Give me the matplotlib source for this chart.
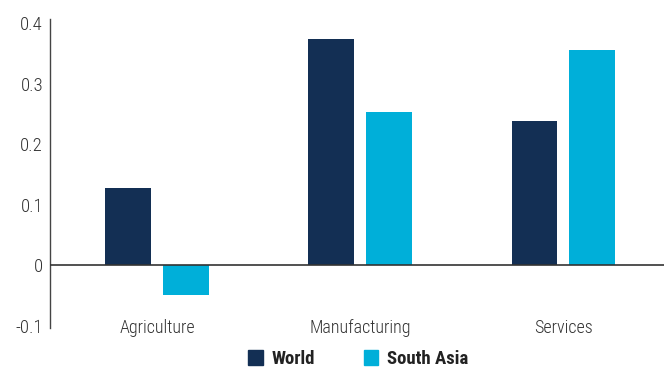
import numpy as np
import matplotlib.pyplot as plt
from matplotlib.patches import Patch

# Sector values
sectors = ['Agriculture', 'Manufacturing', 'Services']
world = [0.128, 0.374, 0.238]
south_asia = [-0.049, 0.254, 0.356]
yticks = [-0.1, 0, 0.1, 0.2, 0.3, 0.4]
ytick_labels = ['-0.1', '0', '0.1', '0.2', '0.3', '0.4']

NAVY = '#132f54'
CYAN = '#00afd9'
FONT = ['Roboto Condensed', 'DejaVu Sans']

plt.rcParams['font.family'] = FONT
plt.rcParams['font.weight'] = 300

fig = plt.figure(figsize=(6.64, 3.70), dpi=100)
ax = fig.add_axes([50 / 664, 0.1195, 1 - 50 / 664, 0.8175])

x = np.arange(len(sectors))
width = 0.224
offset = 0.284
ax.bar(x - offset / 2, world, width, color=NAVY, zorder=2)
ax.bar(x + offset / 2, south_asia, width, color=CYAN, zorder=2)

ax.axhline(0, color='#333333', linewidth=1.2, zorder=3)

ax.set_xlim(-0.527, 2.497)
ax.set_ylim(-0.1, 0.4)
ax.set_yticks(yticks)
ax.set_yticklabels(ytick_labels)
ax.set_xticks(x)
ax.set_xticklabels(sectors)

for side in ['top', 'right', 'bottom']:
    ax.spines[side].set_visible(False)
ax.spines['left'].set_color('#444444')
ax.spines['left'].set_linewidth(1.0)
ax.spines['left'].set_bounds(-0.104, 0.407)

ax.tick_params(axis='y', length=0, pad=5, labelsize=13.5, labelcolor='#333333')
ax.tick_params(axis='x', length=0, pad=-5, labelsize=13, labelcolor='#333333')

handles = [Patch(color=NAVY, label='World'), Patch(color=CYAN, label='South Asia')]
leg = fig.legend(handles=handles, loc='center', bbox_to_anchor=(358 / 664, 11 / 370),
                 ncol=2, frameon=False, handlelength=0.78, handleheight=0.78,
                 handletextpad=0.45, columnspacing=2.6,
                 prop={'family': FONT, 'weight': 'bold', 'size': 13.5})
for t in leg.get_texts():
    t.set_color('#222222')

fig.savefig('out.png', dpi=100)
